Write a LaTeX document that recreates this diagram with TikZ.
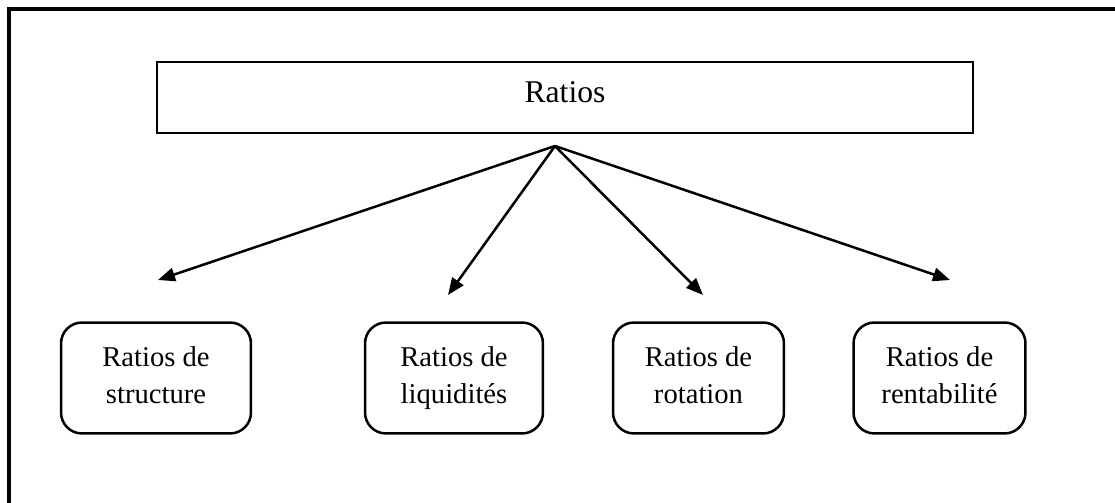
\documentclass[tikz,border=0pt]{standalone}
\usepackage{fontspec}
\setmainfont{Liberation Serif}
\usepackage{tikz}
\usetikzlibrary{positioning,arrows.meta}
\tikzset{
	->,
	>={Triangle[length=0.34cm,width=0.27cm]},
	every node/.style={font=\fontsize{16.3}{21.5}\selectfont},
	topbox/.style={draw, line width=0.05cm, minimum width=16.32cm, minimum height=1.42cm,
		font=\fontsize{18}{21}\selectfont, text depth=0.2cm},
	ratiobox/.style={draw, line width=0.05cm, rounded corners=0.42cm, align=center,
		minimum height=2.22cm, text depth=0.12cm},
}

\begin{document}
\begin{tikzpicture}[
            x=0.02cm,
            y=-0.02cm,
            line width=0.05cm
        ]
        \useasboundingbox (0,0) rectangle (1115,503);
        % frame
        \draw[-, line width=0.085cm] (9,530) -- (9,9) -- (1140,9);

        \node[topbox] (ratios) at (565,97.5) {Ratios};
        \coordinate (apex) at (555,146);

        \node[ratiobox, minimum width=3.8cm]  (structure)   at (156,378)   {Ratios de\\structure};
        \node[ratiobox, minimum width=3.56cm] (liquidites)  at (454,378)   {Ratios de\\liquidités};
        \node[ratiobox, minimum width=3.42cm] (rotation)    at (698.5,378) {Ratios de\\rotation};
        \node[ratiobox, minimum width=3.44cm] (rentabilite) at (939.5,378) {Ratios de\\rentabilité};

        \coordinate (t1) at (158,280);
        \coordinate (t2) at (448,295);
        \coordinate (t3) at (703,295);
        \coordinate (t4) at (950,280);

        \draw (apex) -- (t1);
        \draw (apex) -- (t2);
        \draw (apex) -- (t3);
        \draw (apex) -- (t4);
    \end{tikzpicture}
\end{document}
